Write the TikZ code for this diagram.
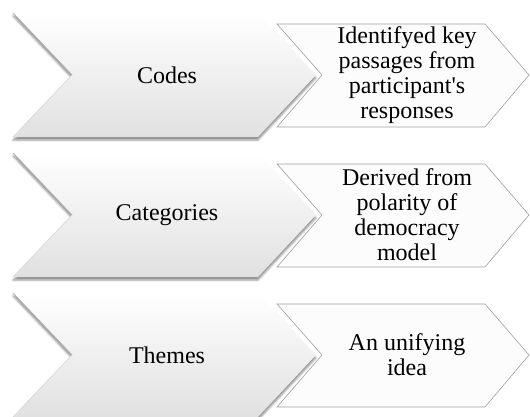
\documentclass[tikz,border=0pt]{standalone}
\usepackage{fontspec}
\setmainfont{Liberation Serif}
\usetikzlibrary{shadows,shadows.blur}

\begin{document}
\begin{tikzpicture}[x=1pt,y=-1pt,
    bigchev/.style={top color=white,bottom color=gray!24,
      blur shadow={shadow xshift=0pt,shadow yshift=-3pt,shadow blur radius=2pt,shadow opacity=45}},
    smallchev/.style={draw=gray!75,fill=gray!2,line width=0.6pt},
    chevtext/.style={font=\fontsize{24}{25}\selectfont,align=center,inner sep=0pt}]
    \useasboundingbox (0,0) rectangle (530,416);
    \foreach \row/\main/\note in {0/Codes/{Identifyed key\\passages from\\participant\textquotesingle s\\responses},
        1/Categories/{Derived from\\polarity of\\democracy\\model},
        2/Themes/{An unifying\\idea}} {
      \pgfmathsetmacro{\t}{13+140*\row}
      % big chevron with shadow
      \path[bigchev] (13,\t) -- (258,\t) -- (316,\t+62) -- (258,\t+124) -- (13,\t+124) -- (72,\t+62) -- cycle;
      \draw[gray!60,line width=0.9pt] (13,\t) -- (72,\t+62);
      \draw[gray!30,line width=0.7pt] (72,\t+62) -- (13,\t+124);
      % small chevron
      \draw[smallchev] (277,\t+11) -- (485,\t+11) -- (529,\t+62) -- (485,\t+114) -- (277,\t+114) -- (322,\t+62) -- cycle;
      \node[chevtext] (main\row) at (167,\t+62) {\main};
      \node[chevtext] (note\row) at (407,\t+62) {\note};
    }
\end{tikzpicture}
\end{document}
